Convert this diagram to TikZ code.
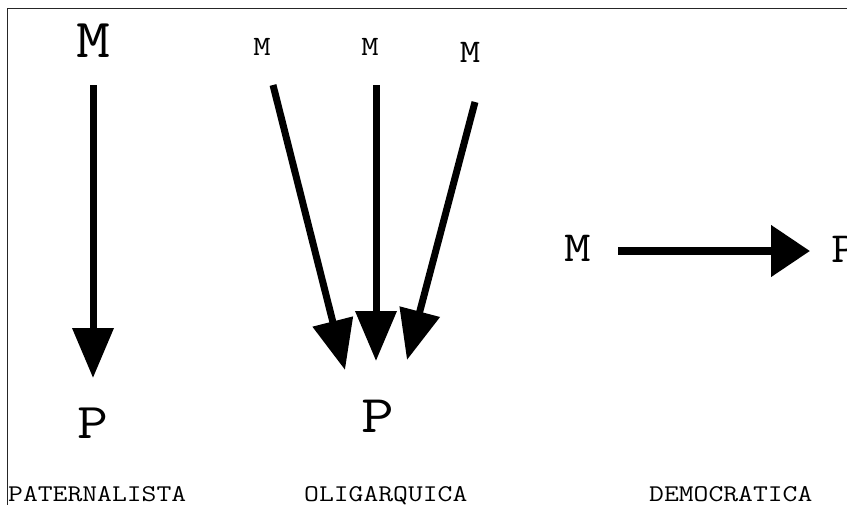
\documentclass[tikz,border=0pt]{standalone}
\usepackage{fontspec}
\newfontfamily\cour[FakeStretch=1.2]{Latin Modern Mono}
\usetikzlibrary{arrows.meta}
\begin{document}
\begin{tikzpicture}[x=1pt,y=-1pt,
  letra/.style={font=\cour\fontsize{#1pt}{#1pt}\selectfont, inner sep=0pt, anchor=base},
  titulo/.style={font=\cour\fontsize{24pt}{24pt}\selectfont, inner sep=0pt, anchor=base west},
  flecha/.style={line width=7pt, -{Triangle[length=50pt,width=40pt]}}]
\useasboundingbox (0,0) rectangle (847,504);
\clip (0,0) rectangle (847,504);
\draw[line width=1.2pt, black!85] (7.5,8.5) rectangle (900,600);
% paternalista
\node[letra=55] (mP) at (93,57) {M};
\node[letra=50] (pP) at (93,438) {P};
\coordinate (aP) at (93,85);
\coordinate (bP) at (93,378);
\draw[flecha] (aP) -- (bP);
% oligarquica
\node[letra=28] (m1) at (262,55) {M};
\node[letra=28] (m2) at (370,55) {M};
\node[letra=33] (m3) at (470,62) {M};
\node[letra=53] (pO) at (378,432) {P};
\coordinate (a1) at (273,85);
\coordinate (b1) at (345,370);
\coordinate (a2) at (376,85);
\coordinate (b2) at (376,361);
\coordinate (a3) at (475,102);
\coordinate (b3) at (407,360);
\draw[flecha] (a1) -- (b1);
\draw[flecha] (a2) -- (b2);
\draw[flecha] (a3) -- (b3);
% democratica
\node[letra=43] (mD) at (578,261) {M};
\node[letra=43, anchor=base west] (pD) at (831,262) {P};
\coordinate (aD) at (618,251);
\coordinate (bD) at (810,251);
\draw[line width=8pt, -{Triangle[length=39pt,width=50pt]}] (aD) -- (bD);
% titulos
\node[titulo] (t1) at (8,501) {PATERNALISTA};
\node[titulo] (t2) at (304,501) {OLIGARQUICA};
\node[titulo] (t3) at (649,501) {DEMOCRATICA};
\end{tikzpicture}
\end{document}
